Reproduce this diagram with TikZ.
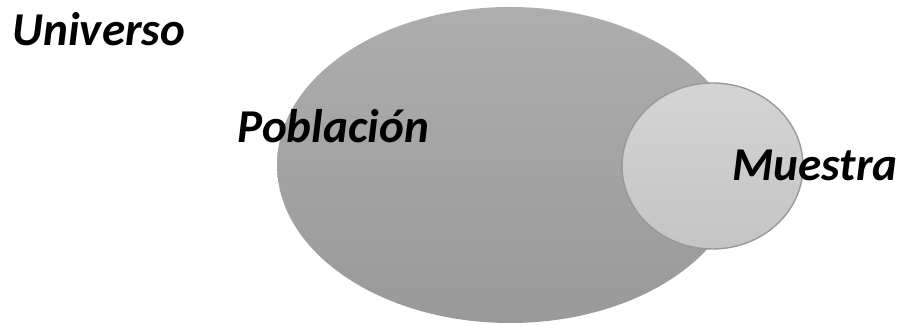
\documentclass[tikz,border=0pt]{standalone}
\usepackage{fontspec}
\setmainfont{Carlito}
\usepackage{tikz}

\begin{document}
\begin{tikzpicture}[x=0.01cm, y=0.01cm, every node/.style={font=\fontsize{13.4}{15}\selectfont\bfseries\itshape, inner sep=0pt}, lbl/.style={anchor=base west}]
	\useasboundingbox (0,0) rectangle (901,325);
	\shade[top color=black!32, bottom color=black!40] (510,160) ellipse [x radius=233, y radius=158];
	\shade[top color=black!17, bottom color=black!23, draw=black!40, line width=0.4pt] (712.5,159) ellipse [x radius=90.5, y radius=83];
	\node[lbl] (universo) at (12,279) {Universo};
	\node[lbl] (poblacion) at (237,182) {Población};
	\node[lbl] (muestra) at (732,144) {Muestra};
\end{tikzpicture}
\end{document}
